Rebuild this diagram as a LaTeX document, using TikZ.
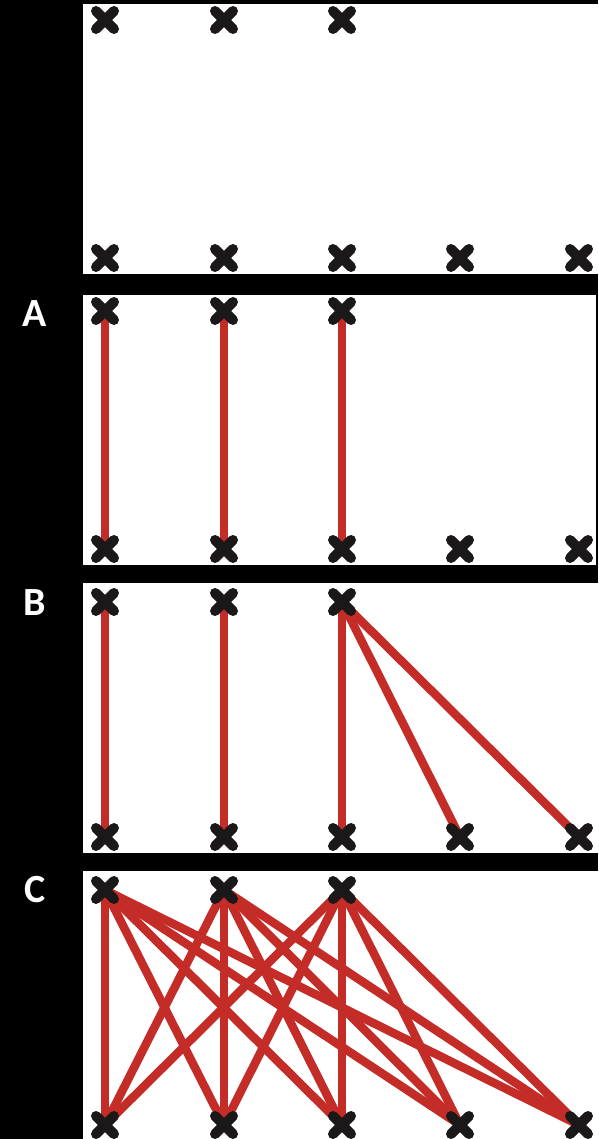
\documentclass[tikz,border=0pt]{standalone}
\usepackage{fontspec}
\setmainfont{Carlito}
\definecolor{edgered}{RGB}{196,44,40}
\definecolor{crossblack}{RGB}{26,24,24}
\tikzset{
  panel/.style={fill=white, draw=none},
  link/.style={draw=edgered, line width=8.5pt},
  crossmark/.style={draw=crossblack, line width=10pt, line cap=round},
  lbl/.style={text=white, font=\fontsize{40}{40}\selectfont\bfseries, inner sep=0pt},
}
\newcommand{\xmark}[1]{%
  \draw[crossmark] ($(#1)+(-9pt,-9pt)$) -- ($(#1)+(9pt,9pt)$);
  \draw[crossmark] ($(#1)+(-9pt,9pt)$) -- ($(#1)+(9pt,-9pt)$);}
\usetikzlibrary{calc}
\begin{document}
\begin{tikzpicture}[x=1pt,y=-1pt]
\fill[black] (0,0) rectangle (598,1139);
\useasboundingbox (0,0) rectangle (598,1139);
% panels
\fill[panel] (83,4) rectangle (598,274);
\fill[panel] (83,295) rectangle (596,565);
\fill[panel] (83,583) rectangle (598,853);
\fill[panel] (83,871) rectangle (598,1139);
% labels
\node[lbl] (la) at (35,314) {A};
\node[lbl] (lb) at (35,603) {B};
\node[lbl] (lc) at (35,890) {C};
% coordinates
\foreach \p/\ty/\by in {1/20/258, 2/311/549, 3/602/837, 4/890/1125}{
  \foreach \i/\x in {1/105,2/224,3/342}{ \coordinate (t\p\i) at (\x,\ty); }
  \foreach \i/\x in {1/105,2/224,3/342,4/460,5/579}{ \coordinate (b\p\i) at (\x,\by); }
}
% panel A edges
\foreach \i in {1,2,3}{ \draw[link] (t2\i) -- (b2\i); }
% panel B edges
\foreach \i in {1,2,3}{ \draw[link] (t3\i) -- (b3\i); }
\draw[link] (t33) -- (b34);
\draw[link] (t33) -- (b35);
% panel C edges
\foreach \i in {1,2,3}{ \foreach \j in {1,...,5}{ \draw[link] (t4\i) -- (b4\j); } }
% crosses
\foreach \p in {1,2,3,4}{
  \foreach \i in {1,2,3}{ \xmark{t\p\i} }
  \foreach \j in {1,...,5}{ \xmark{b\p\j} }
}
\end{tikzpicture}
\end{document}
